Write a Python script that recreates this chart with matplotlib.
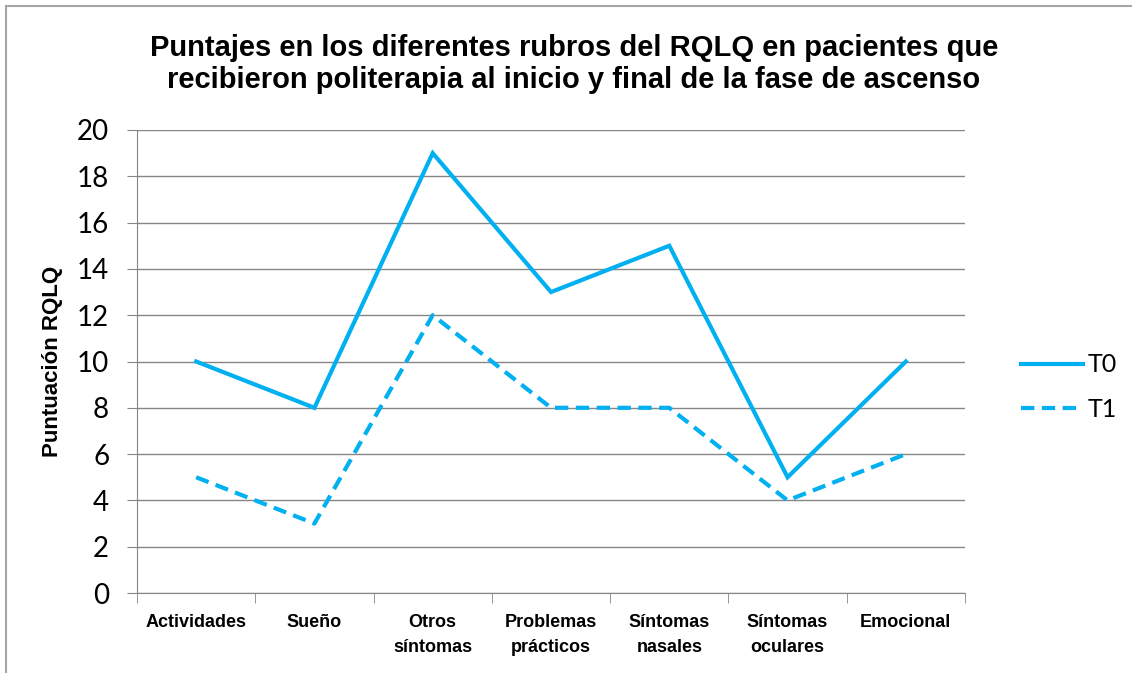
import matplotlib.pyplot as plt
from matplotlib.lines import Line2D

### Data ###
categorias = ['Actividades', 'Sueño', 'Otros\nsíntomas', 'Problemas\nprácticos',
              'Síntomas\nnasales', 'Síntomas\noculares', 'Emocional']
t0 = [10, 8, 19, 13, 15, 5, 10]
t1 = [5, 3, 12, 8, 8, 4, 6]
yticks = list(range(0, 21, 2))

azul = '#00B0F0'
gris = '#868686'

### Plotting ###
fig = plt.figure(figsize=(11.32, 6.73), dpi=100)
ax = fig.add_axes([137/1132, 1 - 593/673, (965 - 137)/1132, (593 - 130)/673])

x = list(range(len(categorias)))
ax.plot(x, t0, color=azul, lw=3, label='T0', solid_joinstyle='miter')
ax.plot(x, t1, color=azul, lw=3, ls=(0, (3.2, 1.8)), label='T1')

ax.set_xlim(-0.5, len(categorias) - 0.5)
ax.set_ylim(0, 20)
ax.set_yticks(yticks)
ax.set_yticklabels([str(v) for v in yticks], family='Lato', fontsize=20)
ax.yaxis.grid(True, color=gris, lw=1)
ax.set_axisbelow(True)

# category labels centered, tick marks at the boundaries
ax.set_xticks(x)
ax.set_xticklabels(categorias, family='Liberation Sans', fontweight='bold',
                   fontsize=13, linespacing=1.6)
ax.tick_params(axis='x', which='major', length=0, pad=15)
ax.set_xticks([i - 0.5 for i in range(len(categorias) + 1)], minor=True)
ax.tick_params(axis='x', which='minor', length=7, color=gris, direction='out')
ax.tick_params(axis='y', length=7, color=gris, direction='out', pad=13)

for s in ['top', 'right']:
    ax.spines[s].set_visible(False)
for s in ['left', 'bottom']:
    ax.spines[s].set_color(gris)

ax.set_ylabel('Puntuación RQLQ', family='Liberation Sans', fontweight='bold',
              fontsize=16, labelpad=10)

fig.suptitle('Puntajes en los diferentes rubros del RQLQ en pacientes que\n'
             'recibieron politerapia al inicio y final de la fase de ascenso',
             family='Liberation Sans', fontweight='bold', fontsize=21,
             y=1 - 34/673, va='top', x=574/1132, linespacing=1.2)

leg = ax.legend(loc='center left', bbox_to_anchor=(1.04, 0.445), frameon=False,
                prop={'family': 'Lato', 'size': 18}, handlelength=2.5,
                handletextpad=0.2, labelspacing=0.85)

# chart border (top and left edges visible)
fig.add_artist(Line2D([5.5/1132, 1], [1 - 5.5/673, 1 - 5.5/673], color='#A6A6A6', lw=1.5))
fig.add_artist(Line2D([5.5/1132, 5.5/1132], [0, 1 - 5.5/673], color='#A6A6A6', lw=1.5))

plt.savefig('out.png', dpi=100)
